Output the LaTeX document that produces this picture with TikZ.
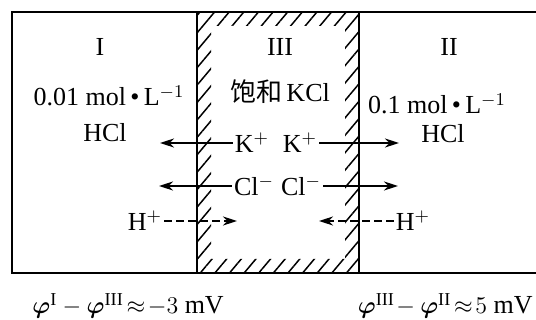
\documentclass[tikz,border=0pt]{standalone}
\usepackage{amsmath,amssymb}
\usepackage{fontspec}
\setmainfont{Liberation Serif}
\newfontfamily\cjk{Noto Sans CJK SC}
\usetikzlibrary{arrows.meta, patterns.meta}

\begin{document}
\begin{tikzpicture}[
    x=0.5pt, y=-0.5pt,
    every node/.style={font=\fontsize{13}{15}\selectfont, inner sep=1pt},
    wall/.style={line width=1.4pt},
    ionflow/.style={line width=1pt, -{Stealth[length=7pt, width=4.5pt]}},
    hflow/.style={ionflow, dash pattern=on 4pt off 2pt},
    potential/.style={font=\fontsize{13}{16}\selectfont, inner sep=0pt}
]
\useasboundingbox (0,0) rectangle (536,320);

% === SALT BRIDGE (hatched band) ===
\fill[pattern={Lines[angle=50, distance=5.6pt, line width=0.75pt]}, even odd rule]
    (197,12) rectangle (359,273) (211,26) rectangle (345,259);

% === CELL WALLS ===
\draw[wall] (536,12) -- (12,12) -- (12,273) -- (536,273);
\draw[wall] (197,12) -- (197,273);
\draw[wall] (359,12) -- (359,273);

% compartment numbers
\node (numI) at (100,47) {I};
\node (numIII) at (280,47) {III};
\node (numII) at (449,47) {II};

% solutions
\node (concI) at (109,96) {0.01 mol\,•\,L$^{-1}$};
\node (acidI) at (105,133) {HCl};
\node (kcl) at (280,92) {{\cjk 饱和}\,KCl};
\node (concII) at (437,104) {0.1 mol\,•\,L$^{-1}$};
\node (acidII) at (443,134) {HCl};

% === IONS ACROSS THE JUNCTIONS ===
\node (kI) at (252,143) {K$^+$};
\node (kII) at (300,143) {K$^+$};
\node (clI) at (254,186) {Cl$^-$};
\node (clII) at (301,186) {Cl$^-$};
\node (hI) at (145,221) {H$^+$};
\node (hII) at (413,221) {H$^+$};

\coordinate (kIend) at (160,143);
\coordinate (kIIend) at (399,143);
\coordinate (clIend) at (159,186);
\coordinate (clIIend) at (398,186);
\coordinate (hIend) at (237,221);
\coordinate (hIIend) at (319,221);

\draw[ionflow] (kI) -- (kIend);
\draw[ionflow] (kII) -- (kIIend);
\draw[ionflow] (clI) -- (clIend);
\draw[ionflow] (clII) -- (clIIend);
\draw[hflow] (hI) -- (hIend);
\draw[hflow] (hII) -- (hIIend);

% === JUNCTION POTENTIALS ===
\node[potential, anchor=west] (potI) at (32,306)
    {$\boldsymbol{\varphi}^{\mathrm{I}}-\boldsymbol{\varphi}^{\mathrm{III}}\!\approx\!-3$ mV};
\node[potential, anchor=east] (potII) at (533,306)
    {$\boldsymbol{\varphi}^{\mathrm{III}}\!-\boldsymbol{\varphi}^{\mathrm{II}}\!\approx\!5$ mV};

\end{tikzpicture}
\end{document}
